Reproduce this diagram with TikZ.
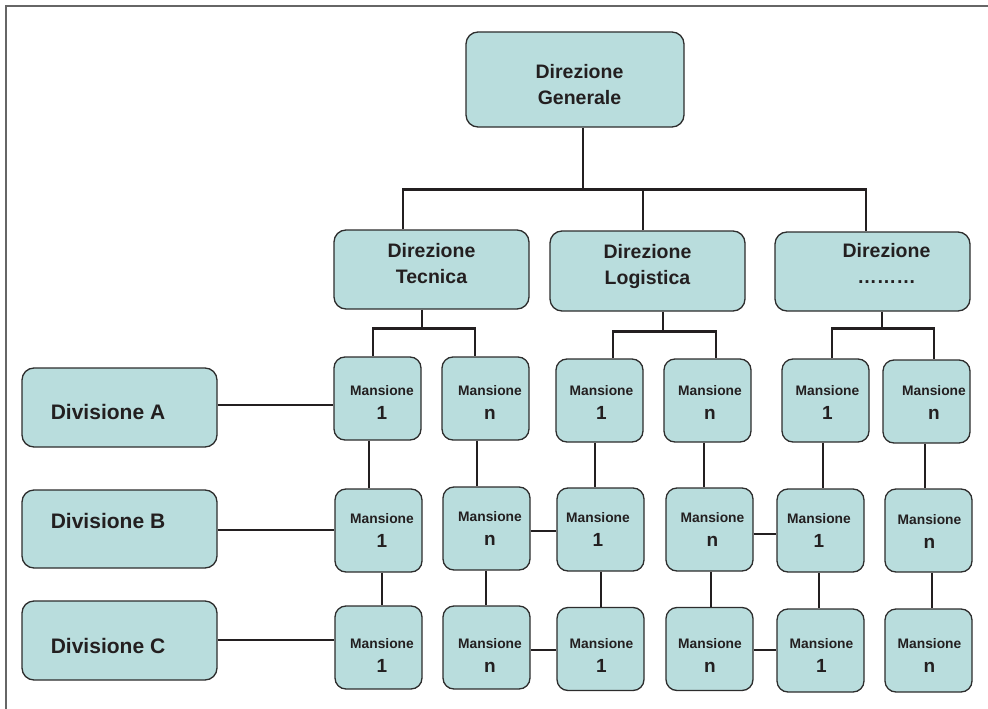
\documentclass[tikz,border=0pt]{standalone}
\usepackage{fontspec}
\setmainfont{Liberation Sans}
\usetikzlibrary{arrows}

\definecolor{boxfill}{RGB}{185,221,221}
\definecolor{boxline}{RGB}{45,45,45}
\definecolor{linkcol}{RGB}{35,31,32}

\tikzset{
	box/.style={draw=boxline,line width=1.3pt,fill=boxfill,rounded corners=12pt,text=linkcol},
	dir/.style={box,align=center,minimum width=195pt,minimum height=79pt,font=\bfseries\fontsize{19.5}{26}\selectfont},
	div/.style={box,minimum width=195pt,minimum height=79pt,font=\bfseries\fontsize{21}{24}\selectfont},
	mans/.style={box,align=center,minimum width=87pt,minimum height=83pt,rounded corners=11pt,font=\bfseries\fontsize{13.8}{24}\selectfont},
	link/.style={draw=linkcol,line width=2.8pt},
	frame/.style={draw=black!60,line width=1.2pt}
}
\newcommand{\mnum}[1]{{\fontsize{19}{24}\selectfont #1}}

\begin{document}
\begin{tikzpicture}[x=1pt,y=-1pt]
	\useasboundingbox (0,0) rectangle (988,709);
	\draw[frame] (6,709) |- (988,6);

	\node[dir,minimum width=218pt,minimum height=95pt] (dg) at (575,79.5) {\hspace*{9pt}\rule{0pt}{24pt}Direzione\\\hspace*{9pt}Generale};
	\node[dir] (dt) at (431.5,269.5) {Direzione\\Tecnica\rule[-11.7pt]{0pt}{11.7pt}};
	\node[dir,minimum height=80pt] (dl) at (647.5,271) {Direzione\\Logistica\rule[-12.7pt]{0pt}{12.7pt}};
	\node[dir] (dx) at (872.5,271.5) {\hspace*{28pt}Direzione\\\hspace*{28pt}………\rule[-16.4pt]{0pt}{16.4pt}};

	\node[div,text height=25pt] (diva) at (119.5,407.5) {Divisione A\kern23pt};
	\node[div,minimum height=78pt,text depth=16.4pt] (divb) at (119.5,529) {Divisione B\kern23pt};
	\node[div,text height=25.6pt] (divc) at (119.5,640.5) {Divisione C\kern23pt};

	\foreach \name/\px/\py/\lab/\hh/\ww in {11/377.5/398.5/1/18.9/9, 12/485.5/398.5/n/18.9/9, 13/599.5/400.5/1/14.9/4,
		14/707.5/400.5/n/14.9/5, 15/825.5/400.5/1/14.9/4, 16/926.5/401.5/n/12.9/15,
		21/378.5/530.5/1/0/7, 22/486.5/528.5/n/0/7, 23/600.5/529.5/1/0/-5,
		24/709.5/529.5/n/0/6, 25/820.5/530.5/1/0/-3, 26/928.5/530.5/n/11.9/2,
		31/378.5/647.5/1/25.9/7, 32/486.5/647.5/n/25.9/7, 33/600.5/649/1/22.9/2,
		34/709.5/649/n/22.9/1, 35/820.5/650.5/1/19.9/2, 36/928.5/650.5/n/19.9/2}
		\node[mans] (m\name) at (\px,\py) {\hspace*{\ww pt}\rule{0pt}{\hh pt}Mansione\\\hspace*{\ww pt}\mnum{\lab}};

	\draw[link] ([xshift=8]dg.south) -- ++(0,62) coordinate (gbus);
	\draw[link] ([xshift=-28.5]dt.north) |- (gbus) -| ([xshift=-6.5]dx.north);
	\draw[link] ([xshift=-4.5]dl.north) -- ([xshift=-4.5]dl.north |- gbus);

	\draw[link] ([xshift=-9.5]dt.south) -- ++(0,19) coordinate (tbus);
	\draw[link] ([xshift=-4.5]m11.north) |- (tbus) -| ([xshift=-10.5]m12.north);
	\draw[link] ([xshift=15.5]dl.south) -- ++(0,20) coordinate (lbus);
	\draw[link] ([xshift=13.5]m13.north) |- (lbus) -| ([xshift=8.5]m14.north);
	\draw[link] ([xshift=9.5]dx.south) -- ++(0,17) coordinate (xbus);
	\draw[link] ([xshift=6.5]m15.north) |- (xbus) -| ([xshift=7.5]m16.north);

	\foreach \c/\a/\b in {1/-8.5/3.5, 2/-8.5/-0.5, 3/-4.5/0.5, 4/-3.5/1.5, 5/-2.5/-1.5, 6/-1.5/3.5} {
		\draw[link] ([xshift=\a]m1\c.south) -- ([xshift=\a]m1\c.south |- m2\c.north);
		\draw[link] ([xshift=\b]m2\c.south) -- ([xshift=\b]m2\c.south |- m3\c.north);
	}

	\draw[link] ([yshift=-2.5]m22.east) -- ([yshift=-2.5]m22.east -| m23.west);
	\draw[link] ([yshift=-4.5]m24.east) -- ([yshift=-4.5]m24.east -| m25.west);
	\draw[link] ([yshift=-2.5]m32.east) -- ([yshift=-2.5]m32.east -| m33.west);
	\draw[link] ([yshift=-1]m34.east) -- ([yshift=-1]m34.east -| m35.west);

	\draw[link] ([yshift=2.5]diva.east) -- ([yshift=2.5]diva.east -| m11.west);
	\draw[link] ([yshift=-1]divb.east) -- ([yshift=-1]divb.east -| m21.west);
	\draw[link] ([yshift=0.5]divc.east) -- ([yshift=0.5]divc.east -| m31.west);
\end{tikzpicture}
\end{document}
